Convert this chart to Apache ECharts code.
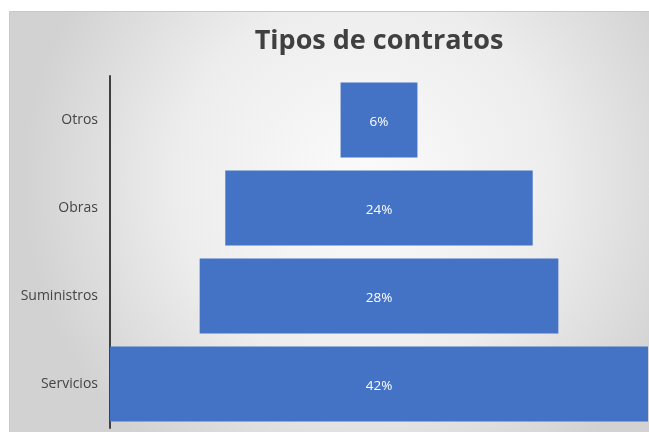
<!DOCTYPE html>
<html><head><meta charset="utf-8">
<script src="https://cdn.jsdelivr.net/npm/echarts@6/dist/echarts.min.js"></script>
<style>html,body{margin:0;padding:0;background:#fff}#c{width:649px;height:432px}</style>
</head><body><div id="c"></div>
<script>
const categories = ["Servicios", "Suministros", "Obras", "Otros"];
const values = [42, 28, 24, 6];
const maxValue = 42;
const offsets = values.map(v => (maxValue - v) / 2);

const chart = echarts.init(document.getElementById('c'));
chart.setOption({
  animation: false,
  graphic: [{
    type: 'rect', z: -10, silent: true,
    shape: { x: 9.5, y: 11.5, width: 645, height: 425 },
    style: {
      fill: new echarts.graphic.RadialGradient(0.55, 0.4, 0.8, [
        { offset: 0, color: '#fbfbfb' },
        { offset: 0.55, color: '#ededed' },
        { offset: 1, color: '#d2d2d2' }
      ]),
      stroke: '#c8c8c8', lineWidth: 1
    }
  }],
  title: {
    text: 'Tipos de contratos', left: 374, top: 23, textAlign: 'center',
    textStyle: { fontFamily: 'Open Sans', fontWeight: 'bold', fontSize: 27, color: '#404040' }
  },
  grid: { left: 110, right: 1, top: 76, bottom: 4 },
  xAxis: { type: 'value', min: 0, max: maxValue, show: false },
  yAxis: {
    type: 'category', data: categories,
    axisLine: { show: true, lineStyle: { color: '#404040', width: 2 } },
    axisTick: { show: false },
    axisLabel: { fontFamily: 'Open Sans', fontSize: 14, color: '#444', margin: 12, padding: [4, 0, 0, 0] }
  },
  series: [
    { type: 'bar', stack: 's', data: offsets, itemStyle: { color: 'transparent' }, silent: true, barCategoryGap: '15%' },
    { type: 'bar', stack: 's', data: values, barCategoryGap: '15%',
      itemStyle: { color: '#4472c4' },
      label: { show: true, position: 'inside', offset: [0, 2], formatter: '{c}%', color: '#fff', fontFamily: 'Open Sans', fontSize: 13.5 } }
  ]
});
</script></body></html>
